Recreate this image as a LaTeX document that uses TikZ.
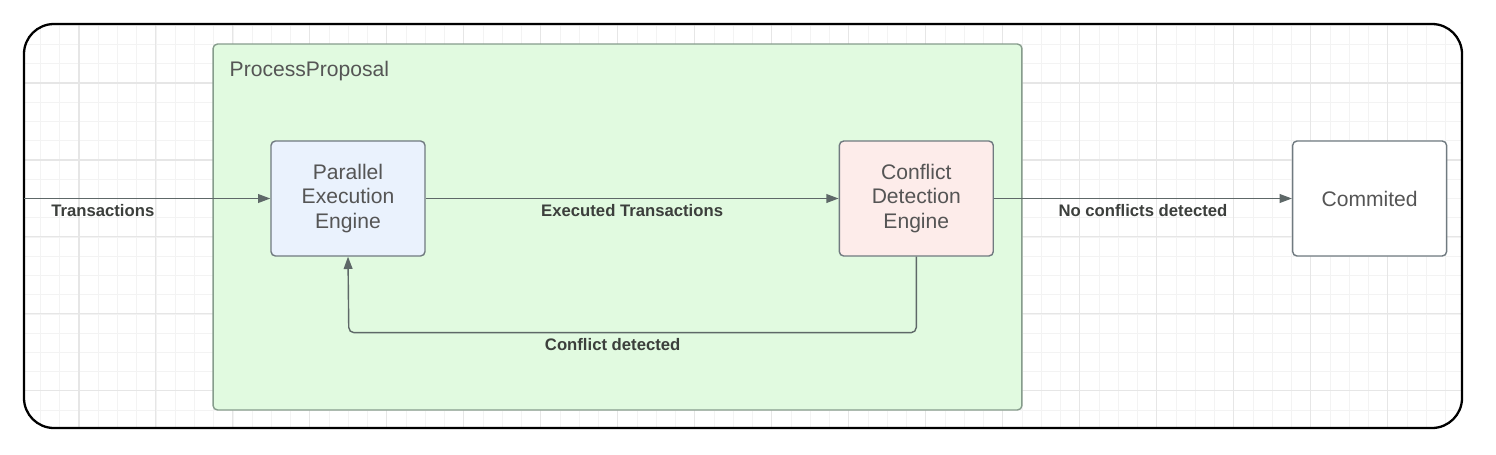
\documentclass[tikz,border=0pt]{standalone}
\usepackage{fontspec}
\setmainfont{Liberation Sans}
\usepackage{tikz}
\usetikzlibrary{positioning, arrows.meta}
\definecolor{gridminor}{HTML}{F3F3F3}
\definecolor{gridmajor}{HTML}{E6E6E6}
\definecolor{edgegray}{HTML}{5E6868}
\definecolor{boxgray}{HTML}{707A80}
\definecolor{textgray}{HTML}{555555}
\definecolor{labelgray}{HTML}{3C3F3C}
\definecolor{ppgreen}{HTML}{E1FAE0}
\definecolor{ppborder}{HTML}{869C8C}
\definecolor{execblue}{HTML}{EAF2FD}
\definecolor{detectpink}{HTML}{FDECEA}
\tikzstyle{engine} = [rectangle, rounded corners=2.5pt,
minimum width=3.08cm,
minimum height=2.3cm,
inner sep=0pt,
text width=2.6cm,
align=center,
draw=boxgray,
line width=0.8pt,
text=textgray,
font=\fontsize{12}{14.2}\selectfont]
\tikzstyle{container} = [rectangle, rounded corners=2.5pt,
minimum width=16.18cm,
minimum height=7.32cm,
draw=ppborder,
line width=0.8pt,
fill=ppgreen]
\tikzstyle{flowlabel} = [below=3pt, inner sep=0pt,
text=labelgray,
font=\fontsize{9.5}{11}\selectfont\bfseries]
\tikzstyle{arrow} = [draw=edgegray, line width=0.8pt,
-{Triangle[length=7pt, width=5pt]}]

\begin{document}
\begin{tikzpicture}[x=0.02cm, y=-0.02cm]
        \useasboundingbox (0,0) rectangle (1496,454);
        \fill[white] (0,0) rectangle (1496,454);

        % background grid inside the frame
        \begin{scope}
            \clip[rounded corners=0.6cm] (24,24) rectangle (1462,428);
            \begin{scope}[xshift=0.04cm, yshift=-0.12cm]
                \draw[gridminor, line width=0.5pt, step=0.385cm] (-40,-40) grid (1540,500);
                \draw[gridmajor, line width=0.6pt, step=1.54cm] (-80,-80) grid (1540,500);
            \end{scope}
        \end{scope}
        \draw[black, line width=1.3pt, rounded corners=0.6cm] (24,24) rectangle (1462,428);

        \node (pp) [container] at (617.5,227) {};
        \node (pptitle) [anchor=west, inner sep=0pt, text=textgray, font=\fontsize{12}{14}\selectfont]
            at ([xshift=0.34cm, yshift=-0.56cm]pp.north west) {ProcessProposal};

        \node (par) [engine, fill=execblue] at (348,198.5) {Parallel\\Execution\\Engine};
        \node (conf) [engine, fill=detectpink, right=8.26cm of par] {Conflict\\Detection\\Engine};
        \node (commit) [engine, fill=white, right=5.96cm of conf] {Commited};
        \coordinate (entry) at (24,198.5);

        \draw [arrow] (entry) -- node[flowlabel, pos=0.32] {Transactions} (par);
        \draw [arrow] (par) -- node[flowlabel] {Executed Transactions} (conf);
        \draw [arrow] (conf) -- node[flowlabel] {No conflicts detected} (commit);
        \draw [arrow, rounded corners=3pt] (conf.south) -- ++(0,76)
            -- node[flowlabel, pos=0.535] {Conflict detected} ++(-567.5,0) -- (par.south);
    \end{tikzpicture}
\end{document}
